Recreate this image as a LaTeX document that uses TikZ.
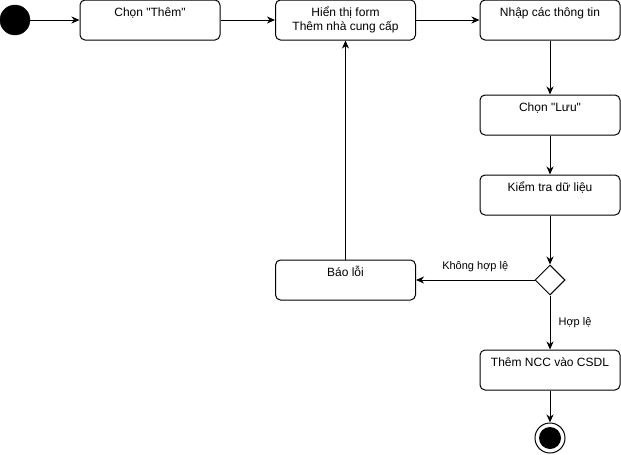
\documentclass[tikz,border=0pt]{standalone}
\usepackage{fontspec}
\setmainfont{Liberation Sans}
\usetikzlibrary{arrows.meta,shapes.geometric}
\begin{document}
\begin{tikzpicture}[x=1pt,y=-1pt,
  act/.style={draw, line width=1pt, rounded corners=5pt, minimum width=140pt, minimum height=40pt, inner sep=0pt, font=\fontsize{12}{14}\selectfont},
  toptext/.style={label={[anchor=base, inner sep=0pt, yshift=-17pt, font=\fontsize{12}{14}\selectfont]north:#1}},
  arr/.style={draw, line width=1pt, -{Stealth[length=8pt,width=7pt,inset=2.5pt]}},
  lbl/.style={font=\fontsize{11}{13}\selectfont, inner sep=0pt}]
\useasboundingbox (0,0) rectangle (621,455);
\node[circle, fill=black, draw=black, minimum size=30pt, inner sep=0pt] (start) at (15,20) {};
\node[act, toptext={Chọn \textquotedbl Thêm\textquotedbl}] (chon) at (150,20) {};
\node[act, align=center] (form) at (345.5,20) {Hiển thị form\\Thêm nhà cung cấp};
\node[act, toptext={Nhập các thông tin}] (nhap) at (550,20) {};
\node[act, toptext={Chọn \textquotedbl Lưu\textquotedbl}] (luu) at (550,115) {};
\node[act, toptext={Kiểm tra dữ liệu}] (kiem) at (550,195) {};
\node[diamond, draw, line width=1pt, minimum size=30pt, inner sep=0pt, aspect=1] (dec) at (550,280) {};
\node[act, toptext={Báo lỗi}] (bao) at (345.5,280) {};
\node[act, toptext={Thêm NCC vào CSDL}] (them) at (550,370) {};
\node[circle, draw=black, line width=1pt, minimum size=30pt, inner sep=0pt] (end) at (550,438) {};
\node[circle, fill=black, minimum size=22pt, inner sep=0pt] (endin) at (end.center) {};
\path[arr] (start) -- (chon);
\path[arr] (chon) -- (form);
\path[arr] (form) -- (nhap);
\path[arr] (nhap) -- (luu);
\path[arr] (luu) -- (kiem);
\path[arr] (kiem) -- (dec);
\path[arr] (dec) -- node[lbl, pos=0.5, yshift=13pt] {Không hợp lệ} (bao);
\path[arr] (bao) -- (form);
\path[arr] (dec) -- node[lbl, pos=0.5, xshift=25pt] {Hợp lệ} (them);
\path[arr] (them) -- (end);
\end{tikzpicture}
\end{document}
